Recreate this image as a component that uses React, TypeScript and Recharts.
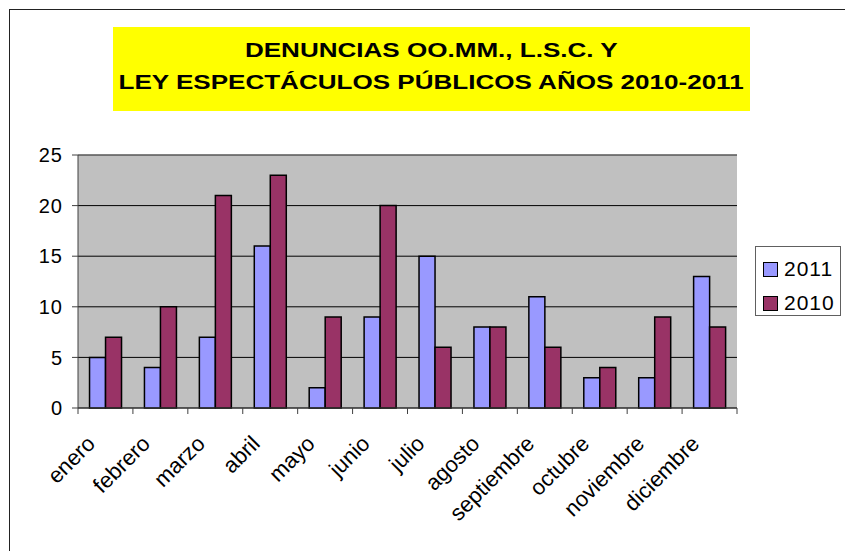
import React from 'react';
import { BarChart, Bar, XAxis, YAxis, CartesianGrid, Legend, ReferenceLine } from 'recharts';

const months = ['enero', 'febrero', 'marzo', 'abril', 'mayo', 'junio', 'julio', 'agosto', 'septiembre', 'octubre', 'noviembre', 'diciembre'];
const values2011 = [5, 4, 7, 16, 2, 9, 15, 8, 11, 3, 3, 13];
const values2010 = [7, 10, 21, 23, 9, 20, 6, 8, 6, 4, 9, 8];
const yTicks = [0, 5, 10, 15, 20, 25];

const data = months.map((m, i) => ({ month: m, y2011: values2011[i], y2010: values2010[i] }));

const FONT = '"Liberation Sans", Arial, sans-serif';
const COLOR_2011 = '#9999FF';
const COLOR_2010 = '#993366';

const MonthTick = (props: any) => {
  const { x, y, payload, index } = props;
  const half = payload.offset || 27.5;
  const isLast = index === months.length - 1;
  const ax = x - 9;
  const ay = y + 37;
  return (
    <g>
      <line x1={x - half} x2={x - half} y1={y} y2={y + 6} stroke="#404040" />
      {isLast && <line x1={x + half} x2={x + half} y1={y} y2={y + 6} stroke="#404040" />}
      <text
        x={ax}
        y={ay}
        textAnchor="end"
        fontSize={22}
        fontFamily={FONT}
        fill="#000"
        transform={`rotate(-45 ${ax} ${ay})`}
      >
        {payload.value}
      </text>
    </g>
  );
};

const LegendBox = () => (
  <div style={{ width: 86, height: 70, border: '1px solid #606060', background: '#fff', boxSizing: 'border-box', fontFamily: FONT, fontSize: 21, paddingTop: 9 }}>
    {[['2011', COLOR_2011], ['2010', COLOR_2010]].map(([label, color]) => (
      <div key={label} style={{ display: 'flex', alignItems: 'center', height: 26, marginBottom: 8, paddingLeft: 7 }}>
        <span style={{ display: 'inline-block', width: 13, height: 13, background: color, border: '1px solid #000', marginRight: 6 }} />
        <span style={{ letterSpacing: 1 }}>{label}</span>
      </div>
    ))}
  </div>
);

export default function App() {
  return (
    <div style={{ position: 'absolute', left: 0, top: 0, width: 845, height: 551, overflow: 'hidden', background: '#fff' }}>
      <div style={{ position: 'absolute', left: 9, top: 9, width: 900, height: 600, border: '1px solid #222' }} />
      <div
        style={{
          position: 'absolute', left: 113, top: 27, width: 637, height: 84, background: '#FFFF00',
          fontFamily: FONT, fontWeight: 'bold', fontSize: 21, lineHeight: '32px', textAlign: 'center',
          paddingTop: 7, boxSizing: 'border-box', zIndex: 2,
        }}
      >
        <div><span style={{ display: 'inline-block', transform: 'scaleX(1.24)' }}>DENUNCIAS OO.MM., L.S.C. Y</span></div>
        <div><span style={{ display: 'inline-block', transform: 'scaleX(1.24)' }}>LEY ESPECTÁCULOS PÚBLICOS AÑOS 2010-2011</span></div>
      </div>
      <div style={{ position: 'absolute', left: 0, top: 0 }}>
        <BarChart
          width={845}
          height={551}
          data={data}
          margin={{ top: 155, right: 108, bottom: 113, left: 8 }}
          barCategoryGap="21%"
          barGap={0}
        >
          <CartesianGrid yAxisId="l" vertical={false} stroke="#000" fill="#C0C0C0" />
          <XAxis
            dataKey="month"
            interval={0}
            height={30}
            tick={<MonthTick />}
            tickLine={false}
            tickSize={0}
            tickMargin={0}
            axisLine={{ stroke: '#404040' }}
          />
          <YAxis
            yAxisId="l"
            domain={[0, 25]}
            ticks={yTicks}
            width={70}
            tickSize={6}
            tickMargin={9}
            tickLine={{ stroke: '#404040' }}
            axisLine={{ stroke: '#404040' }}
            tick={{ fontSize: 20, fontFamily: FONT, fill: '#000', letterSpacing: 1 }}
          />
          <YAxis yAxisId="r" orientation="right" domain={[0, 25]} width={0} tick={false} tickLine={false} axisLine={{ stroke: '#808080' }} />
          <ReferenceLine yAxisId="l" y={25} stroke="#808080" />
          <Bar yAxisId="l" dataKey="y2011" name="2011" fill={COLOR_2011} stroke="#000" strokeWidth={1.5} isAnimationActive={false} />
          <Bar yAxisId="l" dataKey="y2010" name="2010" fill={COLOR_2010} stroke="#000" strokeWidth={1.5} isAnimationActive={false} />
          <Legend
            layout="vertical"
            align="center"
            verticalAlign="middle"
            content={<LegendBox />}
            wrapperStyle={{ position: 'absolute', left: 755, top: 246, width: 86, height: 70 }}
          />
        </BarChart>
      </div>
    </div>
  );
}
